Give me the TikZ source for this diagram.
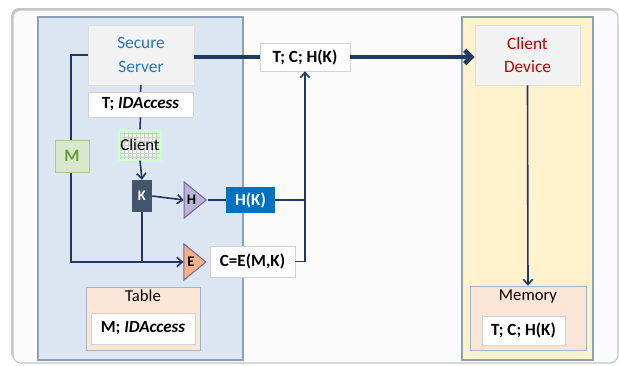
\documentclass[tikz,border=0pt]{standalone}
\usepackage{fontspec}
\setmainfont{Carlito}
\usetikzlibrary{arrows.meta,shapes.geometric,patterns,shadows}

\definecolor{navy}{HTML}{1F3864}
\definecolor{panelblue}{HTML}{DCE6F2}
\definecolor{panelyellow}{HTML}{FFF2CC}
\definecolor{panelline}{HTML}{8EA0B8}
\definecolor{peach}{HTML}{FBE5D6}
\definecolor{boxgray}{HTML}{F2F2F2}
\definecolor{srvblue}{HTML}{2E75B6}
\definecolor{devred}{HTML}{C00000}
\definecolor{slate}{HTML}{44546A}
\definecolor{hblue}{HTML}{0070C0}
\definecolor{lavender}{HTML}{B8B8D6}
\definecolor{violet}{HTML}{7F5FA8}
\definecolor{orange}{HTML}{F4B183}
\definecolor{mgreen}{HTML}{D8E8CC}
\definecolor{mline}{HTML}{A9C98E}
\definecolor{mtext}{HTML}{6A9A3C}

\begin{document}
\begin{tikzpicture}[x=0.75pt, y=-0.75pt,
    every node/.style={inner sep=0, align=center},
    shade/.style={drop shadow={opacity=0.25, shadow xshift=1pt, shadow yshift=-1pt}},
    panel/.style={draw=panelline, line width=0.8pt},
    unit/.style={fill=boxgray, draw=gray!25, shade, font=\fontsize{13}{17.5}\selectfont},
    valbox/.style={fill=white, draw=gray!35, shade, font=\bfseries\fontsize{12.8}{14}\selectfont},
    store/.style={fill=peach, draw=panelline!80, shade},
    tri/.style={isosceles triangle, isosceles triangle stretches, draw=violet, line width=0.8pt,
        minimum width=36*0.75pt, minimum height=22*0.75pt, font=\bfseries\fontsize{11}{12}\selectfont},
    line/.style={navy, line width=1.2pt},
    arr/.style={navy, line width=1.2pt, -{Straight Barb[length=4pt, width=7pt]}},
    thickline/.style={navy, line width=3.5pt},
    thickarr/.style={navy, line width=3.5pt, -{Straight Barb[length=5pt, width=10pt]}}]
    \useasboundingbox (0,0) rectangle (619,365);
    % outer frame
    \fill[gray!45, rounded corners=6] (11,8) rectangle (616,361);
    \draw[draw=panelline!60, fill=gray!3, rounded corners=6, line width=0.8pt] (13,10) rectangle (618,363);
    % panels
    \draw[panel, fill=panelblue] (38,17) rectangle (243,360);
    \draw[panel, fill=panelyellow] (462,17) rectangle (593,360);

    % server side
    \node[unit, text=srvblue, minimum width=106*0.75pt, minimum height=60*0.75pt] (srv) at (141,55) {Secure\\Server};
    \node[valbox, minimum width=105*0.75pt, minimum height=25*0.75pt] (idacc) at (140.5,104.5) {T; \textit{IDAccess}};
    \node[fill=gray!8, draw=green!20, line width=4pt, postaction={pattern=grid, pattern color=gray!40},
        minimum width=32*0.75pt, minimum height=26*0.75pt, font=\fontsize{12.5}{14}\selectfont] (client) at (140,145) {Client};
    \node[fill=slate, text=white, minimum width=20*0.75pt, minimum height=32*0.75pt,
        font=\bfseries\fontsize{11}{12}\selectfont] (K) at (142,196) {K};
    \node[tri, fill=lavender] (H) at (191.5,200) {H};
    \node[fill=hblue, text=white, minimum width=49*0.75pt, minimum height=26*0.75pt,
        font=\bfseries\fontsize{12.8}{14}\selectfont] (hk) at (250.5,200) {H(K)};
    \node[tri, fill=orange] (E) at (191,262) {E};
    \node[valbox, minimum width=85*0.75pt, minimum height=31*0.75pt] (cem) at (252.5,261.5) {C=E(M,K)};
    \node[store, minimum width=114*0.75pt, minimum height=63*0.75pt] (table) at (143,318.5) {};
    \node[font=\fontsize{12.5}{14}\selectfont] (tablelbl) at (143,296) {Table};
    \node[valbox, minimum width=104*0.75pt, minimum height=31*0.75pt] (tinner) at (143,328.5) {M; \textit{IDAccess}};

    % transfer
    \node[valbox, minimum width=90*0.75pt, minimum height=28*0.75pt] (tch) at (305,57) {T; C; H(K)};

    % client side
    \node[unit, text=devred, minimum width=105*0.75pt, minimum height=60*0.75pt] (dev) at (527.5,55) {Client\\Device};
    \node[store, minimum width=116*0.75pt, minimum height=64*0.75pt] (mem) at (528,318) {};
    \node[font=\fontsize{12.5}{14}\selectfont] (memlbl) at (528,296) {Memory};
    \node[valbox, minimum width=83*0.75pt, minimum height=29*0.75pt] (meminner) at (523.5,330.5) {T; C; H(K)};

    % connectors
    \draw[arr] (srv.west) -- ++(-17,0) |- (E.west);
    \node[fill=mgreen, draw=mline, shade, text=mtext, minimum width=34*0.75pt, minimum height=32*0.75pt,
        font=\bfseries\fontsize{13}{14}\selectfont] (M) at (72,156) {M};
    \draw[line] (srv.south) -- (idacc.north);
    \draw[line] (idacc.south) -- (client.north);
    \draw[arr] (client.south) -- (K.north);
    \draw[arr] (K.east) -- (H.west);
    \draw[line] (K.south) -- (K.south |- E.west);
    \draw[line] (H.east) -- (hk.west);
    \draw[line] (hk.east) -- (hk.east -| tch.south);
    \draw[arr] (cem.east) -| (tch.south);
    \draw[thickline] (tch.west -| srv.east) -- (tch.west);
    \draw[thickarr] (tch.east) -- (tch.east -| dev.west);
    \draw[arr] (dev.south) -- (mem.north);
\end{tikzpicture}
\end{document}
